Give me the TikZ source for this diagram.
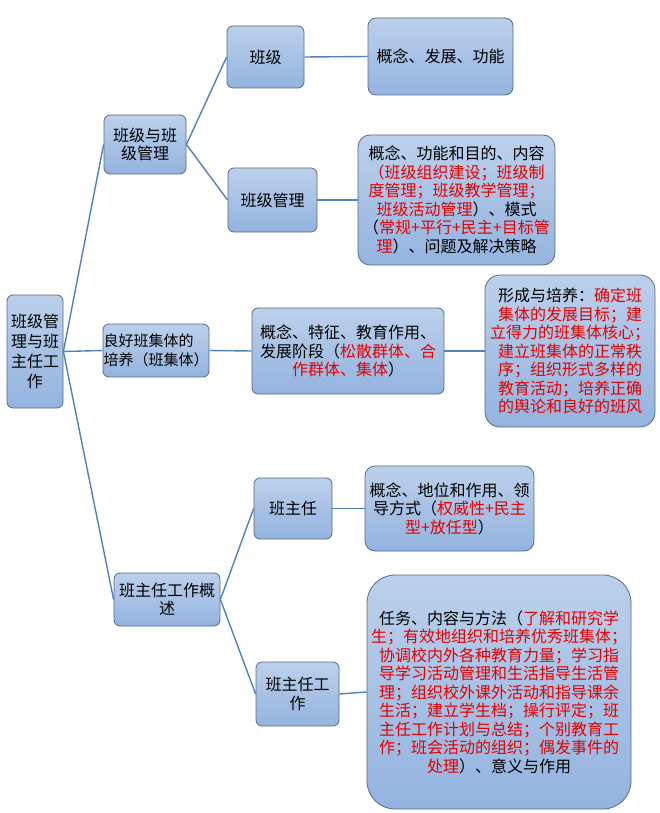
\documentclass[tikz,border=0pt]{standalone}
\usepackage{fontspec}
\setmainfont{Noto Sans CJK SC}
\definecolor{boxtop}{RGB}{188,208,235}
\definecolor{boxbot}{RGB}{147,179,223}
\definecolor{boxedge}{RGB}{88,106,130}
\definecolor{linkc}{RGB}{79,129,189}
\definecolor{myred}{RGB}{228,0,0}
\newcommand{\rd}[1]{\textcolor{myred}{#1}}
\tikzset{
  box/.style={draw=boxedge, line width=0.8pt, top color=boxtop, bottom color=boxbot,
    rounded corners=6pt, inner sep=0pt, align=center,
    font=\fontsize{16}{18.5}\selectfont},
  link/.style={draw=linkc, line width=1.4pt}
}
\begin{document}
\begin{tikzpicture}[x=1pt,y=-1pt]
\useasboundingbox (0,0) rectangle (660,813);
% root
\node[box, minimum width=56pt, minimum height=113pt, font=\fontsize{16}{20}\selectfont] (root) at (35,351.5) {班级管\\理与班\\主任工\\作};
% level 1
\node[box, minimum width=82pt, minimum height=59pt] (a) at (145,144.5) {班级与班\\级管理};
\node[box, minimum width=106pt, minimum height=53pt, align=left, font=\fontsize{15}{18.5}\selectfont] (b) at (156,350.5) {良好班集体的\\培养（班集体）};
\node[box, minimum width=106pt, minimum height=53pt] (c) at (167,599.5) {班主任工作概\\述};
% level 2
\node[box, minimum width=77pt, minimum height=62pt] (a1) at (265.5,57) {班级};
\node[box, minimum width=89pt, minimum height=64pt] (a2) at (272.5,200) {班级管理};
\node[box, minimum width=192pt, minimum height=86pt] (b1) at (348,351) {概念、特征、教育作用、\\发展阶段（\rd{松散群体、合}\\\rd{作群体、集体}）};
\node[box, minimum width=78pt, minimum height=61pt] (c1) at (293,508.5) {班主任};
\node[box, minimum width=83pt, minimum height=64pt] (c2) at (297.5,694) {班主任工\\作};
% level 3
\node[box, minimum width=145pt, minimum height=77pt, rounded corners=8pt] (a1x) at (440.5,56.5) {概念、发展、功能};
\node[box, minimum width=197pt, minimum height=130pt, rounded corners=12pt] (a2x) at (456.5,200) {概念、功能和目的、内容\\\rd{（班级组织建设；班级制}\\\rd{度管理；班级教学管理；}\\\rd{班级活动管理}）、模式\\（\rd{常规+平行+民主+目标管}\\\rd{理}）、问题及解决策略};
\node[box, minimum width=170pt, minimum height=152pt, rounded corners=15pt] (b1x) at (570,351) {形成与培养：\rd{确定班}\\\rd{集体的发展目标；建}\\\rd{立得力的班集体核心；}\\\rd{建立班集体的正常秩}\\\rd{序；组织形式多样的}\\\rd{教育活动；培养正确}\\\rd{的舆论和良好的班风}};
\node[box, minimum width=169pt, minimum height=85pt, rounded corners=10pt] (c1x) at (449.5,508.5) {概念、地位和作用、领\\导方式（\rd{权威性+民主}\\\rd{型+放任型}）};
\node[box, minimum width=264pt, minimum height=234pt, rounded corners=28pt] (c2x) at (499,692) {任务、内容与方法（\rd{了解和研究学}\\\rd{生；有效地组织和培养优秀班集体；}\\\rd{协调校内外各种教育力量；学习指}\\\rd{导学习活动管理和生活指导生活管}\\\rd{理；组织校外课外活动和指导课余}\\\rd{生活；建立学生档；操行评定；班}\\\rd{主任工作计划与总结；个别教育工}\\\rd{作；班会活动的组织；偶发事件的}\\\rd{处理}）、意义与作用};
% connectors
\draw[link] (root.east) -- (a.west);
\draw[link] (root.east) -- (b.west);
\draw[link] (root.east) -- (c.west);
\draw[link] (a.east) -- (a1.west);
\draw[link] (a.east) -- (a2.west);
\draw[link] (b.east) -- (b1.west);
\draw[link] (c.east) -- (c1.west);
\draw[link] (c.east) -- (c2.west);
\draw[link] (a1.east) -- (a1x.west);
\draw[link] (a2.east) -- (a2x.west);
\draw[link] (b1.east) -- (b1x.west);
\draw[link] (c1.east) -- (c1x.west);
\draw[link] (c2.east) -- (c2x.west);
\end{tikzpicture}
\end{document}
